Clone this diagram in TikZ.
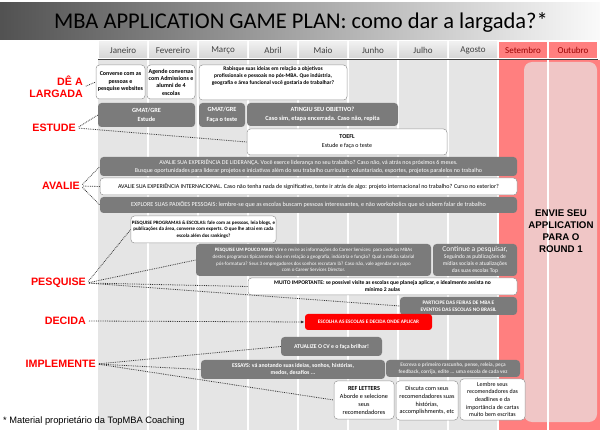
\documentclass[tikz,border=0pt]{standalone}
\usepackage{fontspec}
\setmainfont{Carlito}
\newfontfamily\arialf{Liberation Sans}
\usetikzlibrary{arrows.meta}

\definecolor{boxgray}{HTML}{7B7B7B}
\definecolor{colbg}{HTML}{E5E5E5}
\definecolor{colred}{HTML}{FF7F7F}
\definecolor{pinkbox}{HTML}{F0C6C6}
\definecolor{labred}{HTML}{FF0000}
\definecolor{monthtxt}{HTML}{404040}

\begin{document}
\begin{tikzpicture}[x=1pt,y=-1pt,
    wbox/.style={draw=black!40, fill=white, rounded corners=3.5pt, line width=0.5pt, align=center, inner sep=1pt},
    dbox/.style={fill=boxgray, rounded corners=3.5pt, align=center, inner sep=1pt, text=white},
    lbl/.style={text=labred, font=\arialf\bfseries\fontsize{10.7}{11.5}\selectfont, align=right, anchor=east, inner sep=1pt},
    link/.style={densely dotted, line width=0.8pt, black!80, shorten <=2pt}]
    \useasboundingbox (0,0) rectangle (600,430);
    % title
    \shade[left color=black!68, right color=black!2] (0,3) rectangle (600,40);
    \node[font=\fontsize{22.5}{26}\selectfont] (title) at (301,22) {MBA APPLICATION GAME PLAN: como dar a largada?*};
    % columns
    \fill[colbg] (98,60) rectangle (498,430);
    \fill[colred] (498,60) rectangle (600,430);
    \fill[pinkbox, rounded corners=8pt] (524,62) rectangle (597,422);
    \foreach \x in {148,198,...,548}
        \draw[white, line width=2pt] (\x,60) -- (\x,430);
    \foreach \m [count=\i from 0] in {Janeiro,Fevereiro,Março,Abril,Maio,Junho,Julho,Agosto} {
        \shade[top color=black!6, bottom color=black!16] ({99+50*\i},42) rectangle ({147+50*\i},58);
        \node[font=\fontsize{9}{10}\selectfont, text=monthtxt] (m\i) at ({123+50*\i},50) {\m};
    }
    \fill[colred] (499,42) rectangle (547,58);
    \fill[colred] (549,42) rectangle (597,58);
    \node[font=\fontsize{9}{10}\selectfont, text=red!60!black] (set) at (523,50) {Setembro};
    \node[font=\fontsize{9}{10}\selectfont, text=red!60!black] (out) at (573,50) {Outubro};
    \draw[black!75, line width=1.2pt] (98,59.5) -- (598,59.5);
    \node[font=\arialf\bfseries\fontsize{9.7}{12}\selectfont, align=center] (envie) at (561,231) {ENVIE SEU\\APPLICATION\\PARA O\\ROUND 1};

    % de a largada / estude
    \node[wbox, minimum width=49pt, minimum height=34pt, font=\fontsize{6}{7.5}\selectfont\bfseries] (conv) at (120.5,82) {Converse com as\\pessoas e\\pesquise websites};
    \node[wbox, minimum width=48pt, minimum height=34pt, font=\fontsize{6}{7.3}\selectfont\bfseries] (agende) at (171,82) {Agende conversas\\com Admissions e\\alumni de 4\\escolas};
    \node[wbox, minimum width=148pt, minimum height=35pt] (rab) at (273,82.5) {};
    \node[anchor=north, align=center, inner sep=1pt, font=\fontsize{5.5}{6.8}\selectfont\bfseries] (rabtxt) at (273,65.5) {Rabisque suas ideias em relação a objetivos\\profissionais e pessoais no pós-MBA. Que indústria,\\geografia e área funcional você gostaria de trabalhar?};
    \node[dbox, minimum width=97pt, minimum height=24pt, font=\fontsize{6.3}{9.5}\selectfont\bfseries] (gmatA) at (146.5,115) {GMAT/GRE\\Estude};
    \node[dbox, minimum width=46pt, minimum height=24pt, font=\fontsize{6.3}{9.5}\selectfont\bfseries] (gmatB) at (222,115) {GMAT/GRE\\Faça o teste};
    \node[dbox, minimum width=151pt, minimum height=23pt, font=\fontsize{6.3}{9}\selectfont\bfseries] (ating) at (322.5,114.5) {ATINGIU SEU OBJETIVO?\\Caso sim, etapa encerrada. Caso não, repita};
    \node[wbox, minimum width=200pt, minimum height=26pt, font=\fontsize{6}{9}\selectfont] (toefl) at (347,142) {\textbf{TOEFL}\\Estude e faça o teste};

    % avalie
    \node[dbox, minimum width=417pt, minimum height=19pt, font=\fontsize{6}{7.5}\selectfont] (lider) at (308.5,166.5) {AVALIE SUA EXPERIÊNCIA DE LIDERANÇA. Você exerce liderança no seu trabalho? Caso não, vá atrás nos próximos 6 meses.\\Busque oportunidades para liderar projetos e iniciativas além do seu trabalho curricular: voluntariado, esportes, projetos paralelos no trabalho};
    \node[wbox, minimum width=417pt, minimum height=17pt, font=\fontsize{6}{7.5}\selectfont] (intl) at (308.5,186.5) {AVALIE SUA EXPERIÊNCIA INTERNACIONAL. Caso não tenha nada de significativo, tente ir atrás de algo: projeto internacional no trabalho? Curso no exterior?};
    \node[dbox, minimum width=417pt, minimum height=16pt, font=\fontsize{6.2}{7.5}\selectfont] (paix) at (308.5,205) {EXPLORE SUAS PAIXÕES PESSOAIS: lembre-se que as escolas buscam pessoas interessantes, e não workoholics que só sabem falar de trabalho};

    % pesquise
    \node[wbox, minimum width=111pt, minimum height=27pt, font=\fontsize{5}{6.5}\selectfont\bfseries] (pprog) at (203.5,229.5) {PESQUISE PROGRAMAS \& ESCOLAS: fale com as pessoas, leia blogs, e\\publicações da área, converse com experts. O que lhe atrai em cada\\escola além dos rankings?};
    \node[dbox, minimum width=235pt, minimum height=32pt, font=\fontsize{5}{6.8}\selectfont] (pmais) at (313.5,260) {\textbf{PESQUISE UM POUCO MAIS!} Vire e revire as informações do Career Services: para onde os MBAs\\destes programas tipicamente vão em relação a geografia, indústria e função? Qual a média salarial\\pós-formatura? Seus 3 empregadores dos sonhos recrutam lá? Caso não, vale agendar um papo\\com o Career Services Director.};
    \node[dbox, minimum width=84pt, minimum height=32pt, font=\fontsize{5.6}{7}\selectfont] (cont) at (475,260) {{\fontsize{7.5}{8}\selectfont Continue a pesquisar,}\\Seguindo as publicações de\\mídias sociais e atualizações\\das suas escolas Top};
    \node[wbox, minimum width=269pt, minimum height=17pt, font=\fontsize{5.6}{7}\selectfont\bfseries] (muito) at (382.5,286.5) {MUITO IMPORTANTE: se possível visite as escolas que planeja aplicar, e idealmente assista no\\mínimo 2 aulas};
    \node[dbox, minimum width=117pt, minimum height=18pt, font=\fontsize{5.3}{7}\selectfont\bfseries] (partic) at (458.5,306) {PARTICIPE DAS FEIRAS DE MBA E\\EVENTOS DAS ESCOLAS NO BRASIL};

    % decida
    \node[fill=red, rounded corners=3pt, minimum width=127pt, minimum height=16pt, inner sep=1pt, text=white, font=\fontsize{5.2}{6}\selectfont\bfseries] (escolha) at (368.5,322) {ESCOLHA AS ESCOLAS E DECIDA ONDE APLICAR};

    % implemente
    \node[dbox, minimum width=101pt, minimum height=19pt, font=\fontsize{5.8}{7}\selectfont\bfseries] (atual) at (331.5,346.5) {ATUALIZE O CV e o faça brilhar!};
    \node[dbox, minimum width=184pt, minimum height=19pt, font=\fontsize{5.8}{7}\selectfont\bfseries] (essays) at (293,369.5) {ESSAYS: vá anotando suas ideias, sonhos, histórias,\\medos, desafios ...};
    \node[dbox, minimum width=134pt, minimum height=17pt, text=black!12, font=\fontsize{5.3}{7}\selectfont\bfseries] (escreva) at (453,368.5) {Escreva o primeiro rascunho, pense, releia, peça\\feedback, corrija, edite ... uma escola de cada vez};
    \node[wbox, minimum width=60pt, minimum height=38pt, font=\fontsize{6.2}{8}\selectfont] (refl) at (364,400) {\textbf{REF LETTERS}\\Aborde e selecione\\seus\\recomendadores};
    \node[wbox, minimum width=62pt, minimum height=39pt, font=\fontsize{6.2}{7.8}\selectfont] (discuta) at (427,400.5) {Discuta com seus\\recomendadores suas\\histórias,\\accomplishments, etc};
    \node[wbox, minimum width=65pt, minimum height=41pt, font=\fontsize{6}{7.6}\selectfont] (lembre) at (492.5,399.5) {Lembre seus\\recomendadores das\\deadlines e da\\importância de cartas\\muito bem escritas};

    % labels
    \node[lbl] (largada) at (84,87) {DÊ A\\LARGADA};
    \node[lbl] (estude) at (77,128) {ESTUDE};
    \node[lbl] (avalie) at (81,186) {AVALIE};
    \node[lbl] (pesquise) at (87,283) {PESQUISE};
    \node[lbl] (decida) at (87,321) {DECIDA};
    \node[lbl] (implem) at (97,364) {IMPLEMENTE};

    \draw[link] (largada.east) -- (conv.west);
    \draw[link] (estude.east) -- (gmatA.west);
    \draw[link] (estude.east) -- (toefl.west);
    \draw[link] (avalie.east) -- (lider.west);
    \draw[link] (avalie.east) -- (intl.west);
    \draw[link] (avalie.east) -- (paix.west);
    \draw[link] (pesquise.east) -- (pprog.west);
    \draw[link] (pesquise.east) -- (pmais.west);
    \draw[link] (pesquise.east) -- (muito.west);
    \draw[link] (pesquise.east) -- (partic.west);
    \draw[link, -{Latex[length=4pt]}] (decida.east) -- (escolha.west);
    \draw[link] (implem.east) -- (atual.west);
    \draw[link] (implem.east) -- (essays.west);
    \draw[link] (implem.east) -- (refl.west);

    \node[font=\arialf\fontsize{9.3}{11}\selectfont, anchor=base west, inner sep=0pt] (nota) at (3,424) {* Material proprietário da TopMBA Coaching};
\end{tikzpicture}
\end{document}
